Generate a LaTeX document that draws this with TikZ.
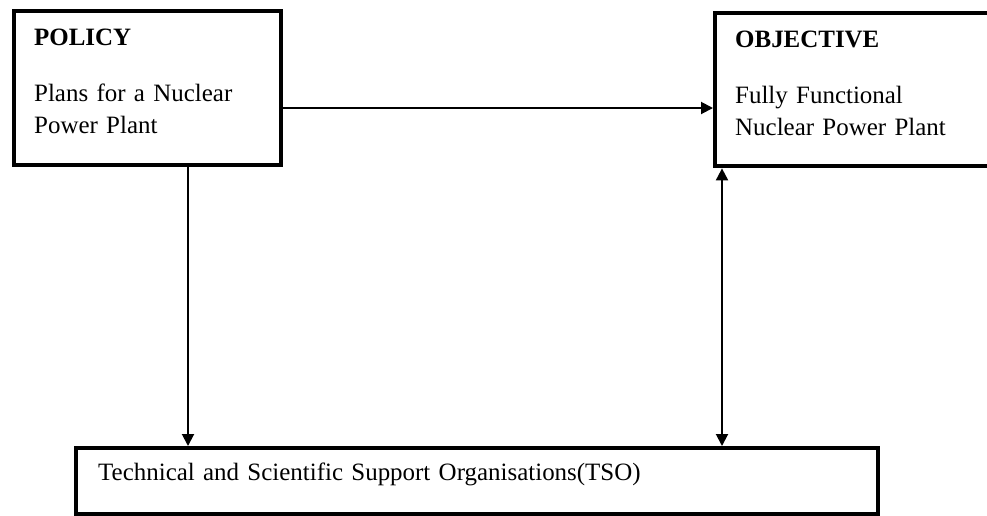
\documentclass[tikz,border=0pt]{standalone}
\usepackage{fontspec}
\setmainfont{Liberation Serif}
\usetikzlibrary{arrows.meta}

\begin{document}
\begin{tikzpicture}[
  x=0.02cm,
  y=-0.02cm,
  >={Triangle[length=2.4mm,width=2.4mm]},
  box/.style={draw, line width=2.5pt, anchor=north west, align=left,
              inner ysep=0pt, inner xsep=0.4cm,
              font=\fontsize{14.2}{18.2}\selectfont},
  link/.style={->, line width=1.1pt},
  both/.style={<->, line width=1.1pt},
]
\useasboundingbox (0,0) rectangle (987,515);
\clip (0,0) rectangle (987,515);

\node[box, text width=4.54cm, text height=0.68cm, text depth=2.4cm] (policy) at (12,9)
  {\textbf{POLICY}\\[14pt]Plans for a Nuclear\\Power Plant};
\node[box, text width=4.94cm, text height=0.68cm, text depth=2.38cm] (objective) at (713,11)
  {\textbf{OBJECTIVE}\\[14pt]Fully Functional\\Nuclear Power Plant};
\node[box, inner xsep=0.44cm, text width=15.16cm, text height=0.64cm, text depth=0.68cm] (tso) at (74,446)
  {Technical and Scientific Support Organisations(TSO)};

% policy feeds the objective and the support organisations
\draw[link] (policy.east |- 0,108) -- (objective.west |- 0,108);
\draw[link] (policy.south -| 188,0) -- (tso.north -| 188,0);
\draw[both] (tso.north -| 722,0) -- (objective.south -| 722,0);

\end{tikzpicture}
\end{document}
